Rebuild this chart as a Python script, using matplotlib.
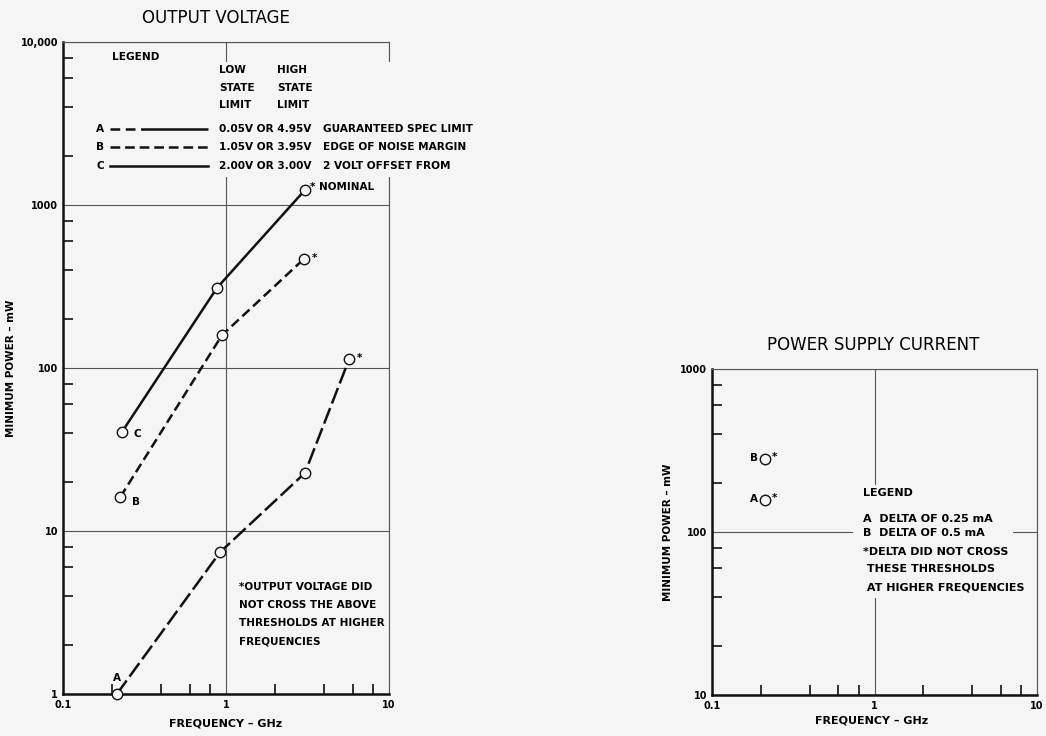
import numpy as np
import matplotlib
matplotlib.use('Agg')
from matplotlib import pyplot as plt
from matplotlib.lines import Line2D
from matplotlib.patches import Rectangle
from matplotlib.ticker import LogLocator, NullFormatter

plt.rcParams['font.family'] = ['DejaVu Sans']
plt.rcParams['font.weight'] = 'bold'
plt.rcParams['axes.labelweight'] = 'bold'
plt.rcParams['lines.scale_dashes'] = False

bg = '#f5f5f5'

# output voltage curves: frequency (GHz) / minimum power (mW)
freq_a = [0.214, 0.918, 3.05, 5.69]
power_a = [1.0, 7.4, 22.7, 113]
freq_b = [0.225, 0.945, 3.0]
power_b = [16.2, 159, 466]
freq_c = [0.23, 0.88, 3.05]
power_c = [40.5, 310, 1236]

# power supply current points
psc_labels = ['A', 'B']
psc_freq = [0.212, 0.212]
psc_power = [157, 280]

# legend rows of the output voltage chart
row_keys = ['A', 'B', 'C']
row_volts = ['0.05V OR 4.95V', '1.05V OR 3.95V', '2.00V OR 3.00V']
row_desc = ['GUARANTEED SPEC LIMIT', 'EDGE OF NOISE MARGIN', '2 VOLT OFFSET FROM']

style_a = (0, (12, 3.5))
style_b = (0, (7, 3.5))
style_c = '-'

W, H = 1046, 736
def fx(x):
    return x / W
def fy(y):
    return 1 - y / H

fig = plt.figure(figsize=(10.46, 7.36), dpi=100, facecolor=bg)
ax1 = fig.add_axes([fx(63), fy(694), (389 - 63) / W, (694 - 42) / H])
ax2 = fig.add_axes([fx(712), fy(695), (1037 - 712) / W, (695 - 369) / H])


def style(ax, yticks, ylabels):
    ax.set_facecolor(bg)
    ax.set_xscale('log')
    ax.set_yscale('log')
    ax.set_xlim(0.1, 10)
    ax.set_ylim(yticks[0], yticks[-1])
    ax.set_xticks([0.1, 1, 10])
    ax.set_xticklabels(['0.1', '1', '10'])
    ax.set_yticks(yticks)
    ax.set_yticklabels(ylabels)
    for axis in (ax.xaxis, ax.yaxis):
        axis.set_minor_locator(LogLocator(base=10, subs=[2, 4, 6, 8]))
        axis.set_minor_formatter(NullFormatter())
    ax.grid(True, which='major', color='#555555', lw=0.8)
    ax.tick_params(which='major', length=0, labelsize=7)
    ax.tick_params(axis='y', which='major', pad=3.6)
    ax.tick_params(axis='x', which='major', pad=4.5)
    ax.tick_params(which='minor', direction='in', length=7, width=1.3, color='#222222')
    for s in ['top', 'right']:
        ax.spines[s].set_linewidth(0.8)
        ax.spines[s].set_color('#555555')
    for s in ['left', 'bottom']:
        ax.spines[s].set_linewidth(1.8)
        ax.spines[s].set_color('#111111')
    ax.set_xlabel('FREQUENCY – GHz', fontsize=8)
    ax.set_ylabel('MINIMUM POWER – mW', fontsize=7.5)


style(ax1, [1, 10, 100, 1000, 10000], ['1', '10', '100', '1000', '10,000'])
style(ax2, [10, 100, 1000], ['10', '100', '1000'])
ax1.xaxis.set_label_coords(0.5, -0.038)
ax1.yaxis.set_label_coords(-0.144, 0.5)
ax2.xaxis.set_label_coords(0.49, -0.064)
ax2.yaxis.set_label_coords(-0.12, 0.5)

mk = dict(marker='o', ms=7.5, mfc=bg, mec='#111111', mew=1.0, color='#111111',
          lw=1.8, clip_on=False, zorder=3)
ax1.plot(freq_c, power_c, ls=style_c, **mk)
ax1.plot(freq_b, power_b, ls=style_b, **mk)
ax1.plot(freq_a, power_a, ls=style_a, **mk)

lab = dict(textcoords='offset points', fontsize=7.5, va='center')
ax1.annotate('C', (freq_c[0], power_c[0]), xytext=(8, -1.5), ha='left', **lab)
ax1.annotate('B', (freq_b[0], power_b[0]), xytext=(8.5, -3.5), ha='left', **lab)
ax1.annotate('A', (freq_a[0], power_a[0]), xytext=(0, 11.5), ha='center', **lab)
ax1.annotate('* NOMINAL', (freq_c[-1], power_c[-1]), xytext=(4, 2), ha='left', **lab)
ax1.annotate('*', (freq_b[-1], power_b[-1]), xytext=(5.5, 1), ha='left', **lab)
ax1.annotate('*', (freq_a[-1], power_a[-1]), xytext=(5.5, 1), ha='left', **lab)

ax2.plot(psc_freq, psc_power, ls='none', **mk)
for f, p, t in zip(psc_freq, psc_power, psc_labels):
    ax2.annotate(t, (f, p), xytext=(-5, 0.5), ha='right', **lab)
    ax2.annotate('*', (f, p), xytext=(5, 1.5), ha='left', **lab)

# titles
fig.text(fx(216), fy(18), 'OUTPUT VOLTAGE', fontsize=12, weight='normal', ha='center', va='center')
fig.text(fx(873), fy(345), 'POWER SUPPLY CURRENT', fontsize=12, weight='normal', ha='center', va='center')

# blank area behind the legends (breaks grid lines like the original)
fig.add_artist(Rectangle((fx(85), fy(177)), (480 - 85) / W, (177 - 62) / H,
                         transform=fig.transFigure, facecolor=bg, edgecolor='none', zorder=1))
fig.add_artist(Rectangle((fx(853), fy(598)), (1013 - 853) / W, (598 - 485) / H,
                         transform=fig.transFigure, facecolor=bg, edgecolor='none', zorder=1))

tx = dict(fontsize=7.6, va='center', zorder=3)
fig.text(fx(112), fy(57), 'LEGEND', ha='left', **tx)
for y, a, b in zip([70, 88, 105], ['LOW', 'STATE', 'LIMIT'], ['HIGH', 'STATE', 'LIMIT']):
    fig.text(fx(219), fy(y), a, ha='left', **tx)
    fig.text(fx(277), fy(y), b, ha='left', **tx)

row_styles = [(0, (7, 4, 7, 4, 80, 4)), style_b, style_c]
for y, k, ls, v, d in zip([129, 147, 166], row_keys, row_styles, row_volts, row_desc):
    fig.text(fx(100), fy(y), k, ha='center', **tx)
    fig.add_artist(Line2D([fx(110), fx(208)], [fy(y), fy(y)], transform=fig.transFigure,
                          color='#111111', lw=1.8, ls=ls, zorder=2))
    fig.text(fx(219), fy(y), v, ha='left', **tx)
    fig.text(fx(323), fy(y), d, ha='left', **tx)

note1 = ['*OUTPUT VOLTAGE DID', 'NOT CROSS THE ABOVE', 'THRESHOLDS AT HIGHER', 'FREQUENCIES']
for y, t in zip([587, 605, 623, 642], note1):
    fig.text(fx(239), fy(y), t, ha='left', fontsize=7.5, va='center', zorder=3)

note2 = ['LEGEND', 'A  DELTA OF 0.25 mA', 'B  DELTA OF 0.5 mA',
         '*DELTA DID NOT CROSS', ' THESE THRESHOLDS', ' AT HIGHER FREQUENCIES']
for y, t in zip([493, 519, 533, 552, 569, 587], note2):
    fig.text(fx(863), fy(y), t, ha='left', fontsize=8, va='center', zorder=3)

fig.savefig('out.png', dpi=100, facecolor=bg)
